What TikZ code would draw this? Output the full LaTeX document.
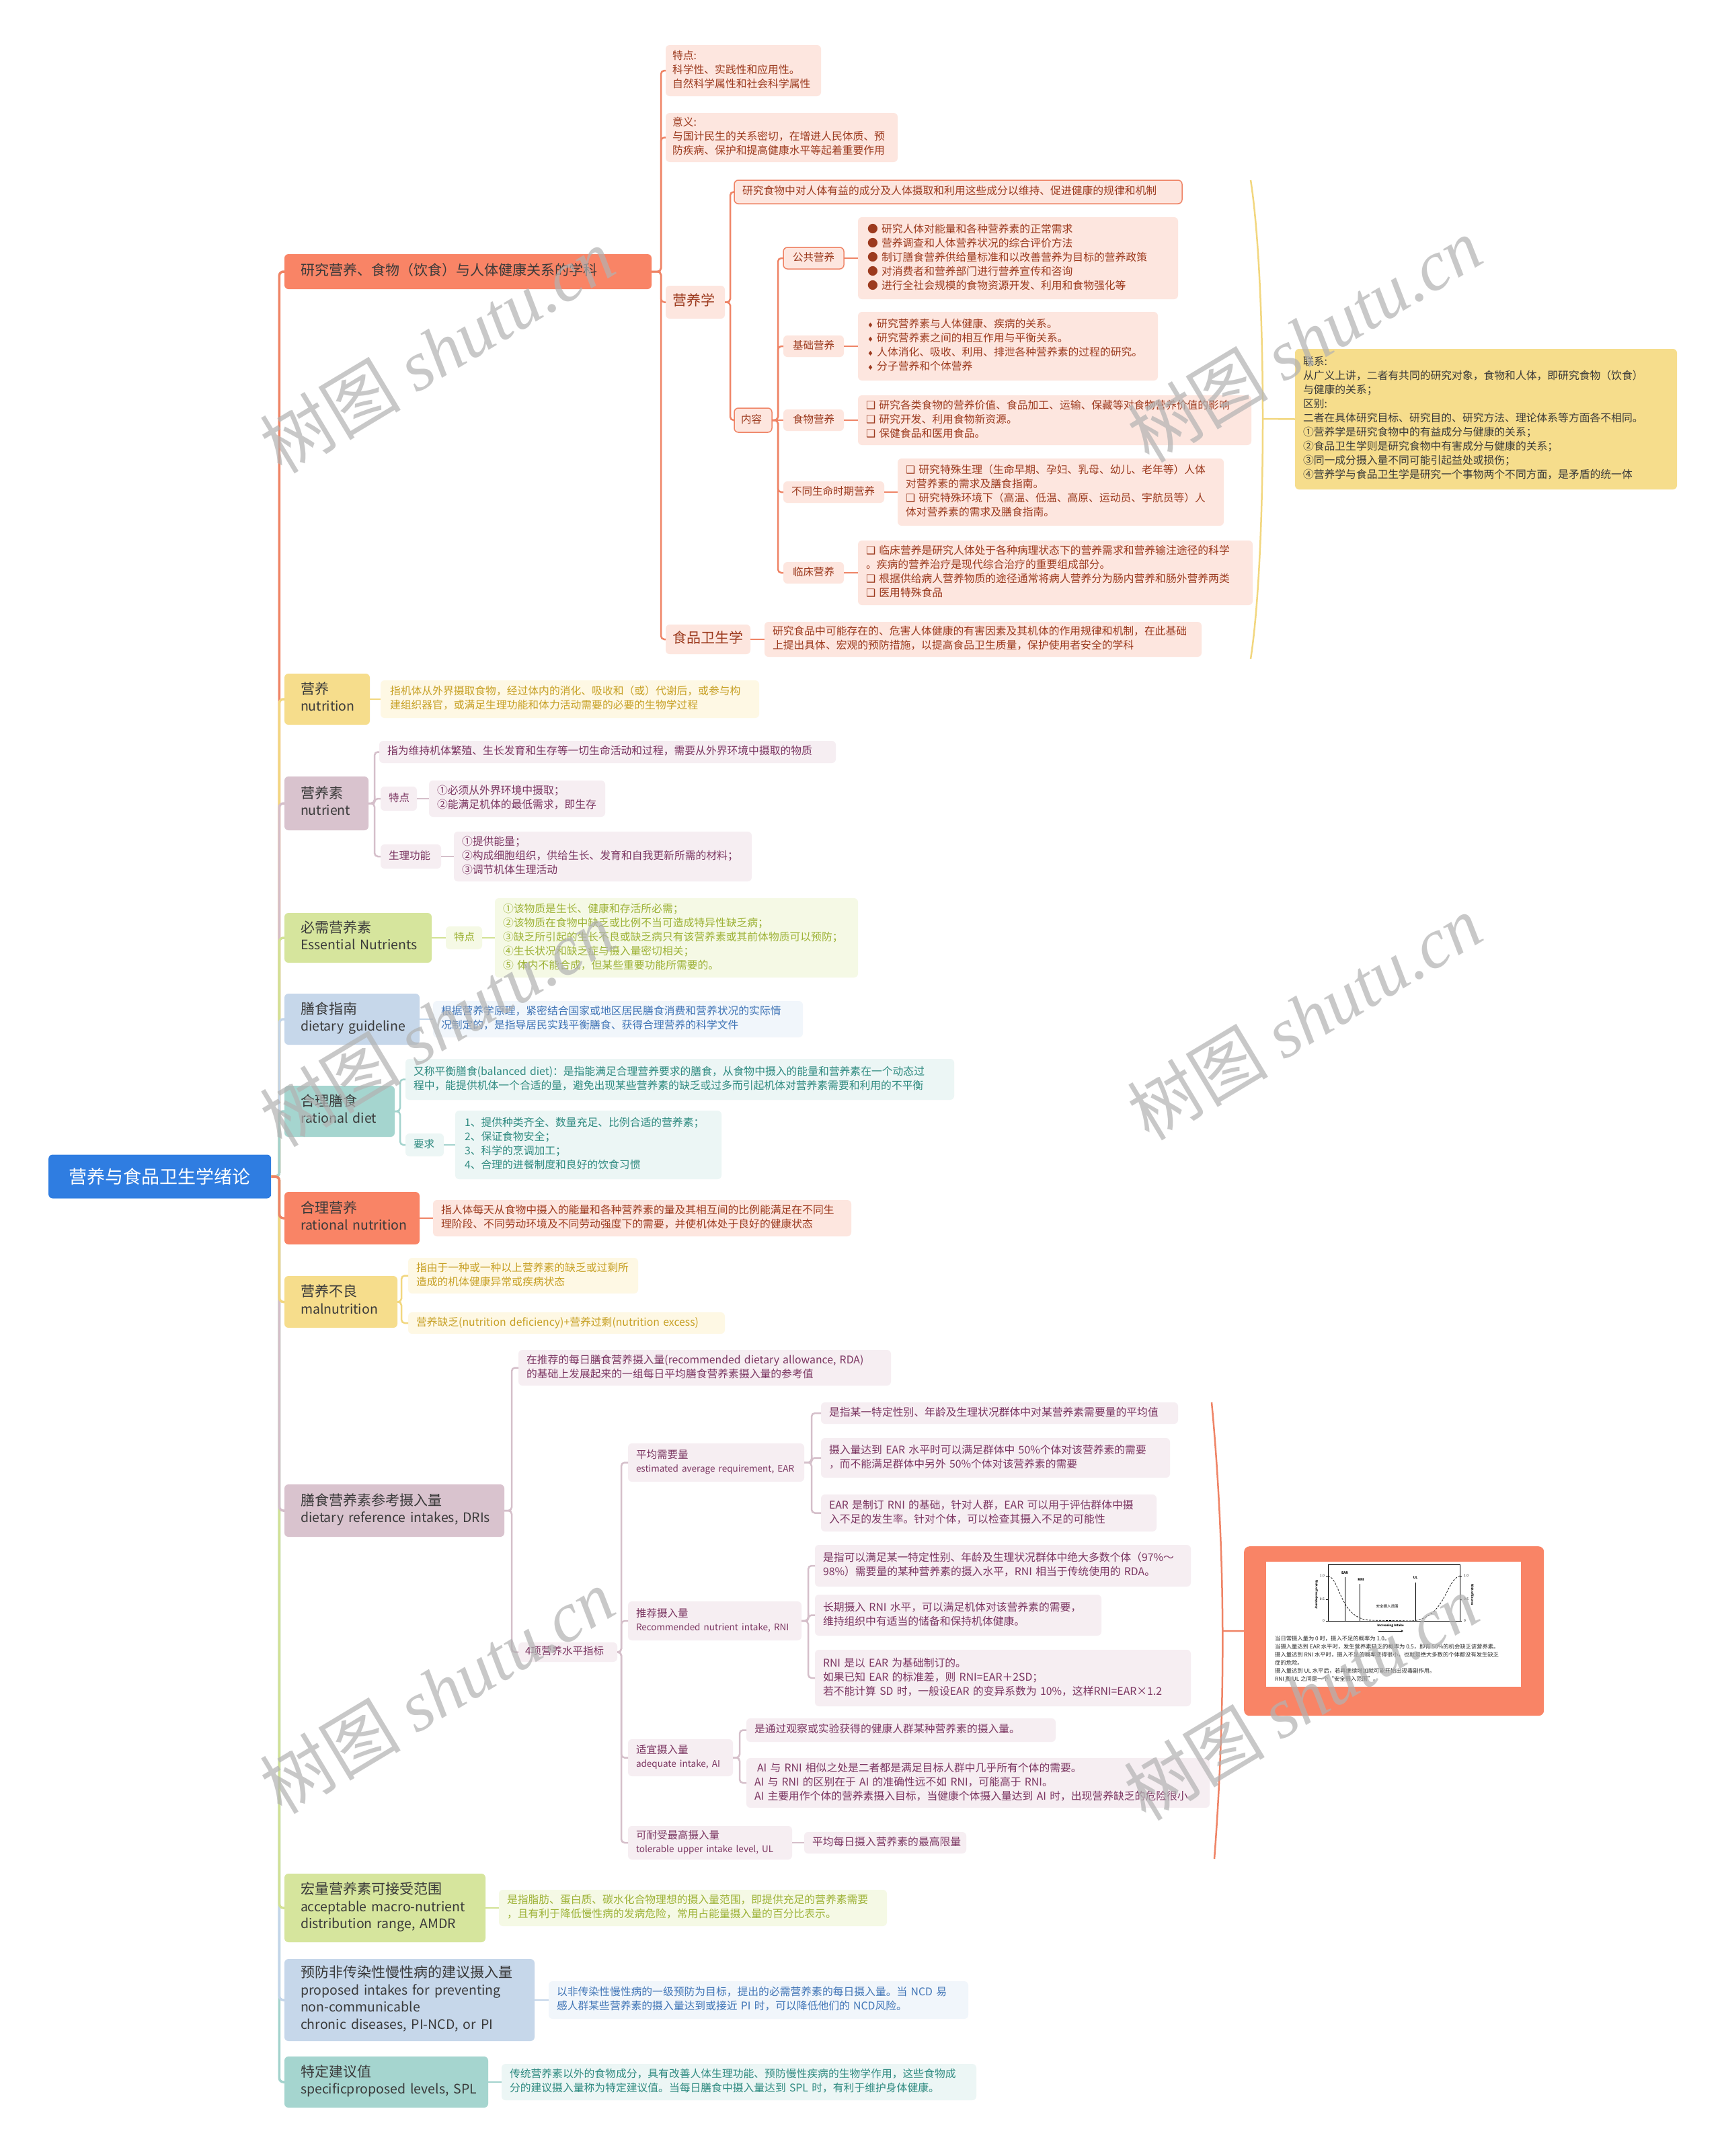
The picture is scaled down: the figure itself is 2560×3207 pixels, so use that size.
\documentclass[tikz,border=0pt]{standalone}
\usepackage{fontspec}
\setmainfont{Noto Sans CJK SC}
\newfontfamily\symf{DejaVu Sans}
\newfontfamily\wmf{Liberation Serif}
\usetikzlibrary{calc}
\definecolor{rootc}{HTML}{2F7DE1}
\definecolor{coral}{HTML}{F98466}
\definecolor{coralL}{HTML}{FDE6DF}
\definecolor{coralT}{HTML}{9C3A1E}
\definecolor{coralLine}{HTML}{EF8466}
\definecolor{yel}{HTML}{F6DD8C}
\definecolor{yelL}{HTML}{FEF8E4}
\definecolor{yelT}{HTML}{C7A024}
\definecolor{yelLine}{HTML}{F2D77F}
\definecolor{mau}{HTML}{D9C3CE}
\definecolor{mauL}{HTML}{F6EEF2}
\definecolor{mauT}{HTML}{7B3561}
\definecolor{mauLine}{HTML}{D5BFCA}
\definecolor{lim}{HTML}{D6E59D}
\definecolor{limL}{HTML}{F5F9E5}
\definecolor{limT}{HTML}{9DB236}
\definecolor{limLine}{HTML}{D2E294}
\definecolor{blu}{HTML}{C6D7EA}
\definecolor{bluL}{HTML}{F1F6FB}
\definecolor{bluT}{HTML}{3F74B6}
\definecolor{bluLine}{HTML}{C3D5E9}
\definecolor{tea}{HTML}{A5D5CF}
\definecolor{teaL}{HTML}{ECF6F5}
\definecolor{teaT}{HTML}{2E8A80}
\definecolor{teaLine}{HTML}{A3D3CD}
\definecolor{darkT}{HTML}{3A3A3A}
\newcommand\sqb{{\symf ❑}}
\newcommand\dmd{{\symf\fontsize{10}{10}\selectfont ♦}}
\newcommand\en{\fontsize{19.5}{25.5}\selectfont}
\newcommand\ens{\fontsize{13.5}{20}\selectfont}
\newcommand\bx[8]{%
 \pgfmathsetmacro\tw{#6-#4-2*#1}%
 \pgfmathsetmacro\hh{#7-#5}%
 \pgfmathsetmacro\cy{(#5+#7)/2}%
 \node[#3,inner xsep=#1pt,text width=\tw pt,minimum height=\hh pt] (#2) at (#4,\cy) {\begin{tabular}{@{}l@{}}#8\end{tabular}};%
}
\newcommand\lnk[4]{\draw[#1] (#2.east) -- ++(#3,0) |- (#4.west);}
\newcommand\lnks[3]{\draw[#1] (#2.east) -- (#3.west);}
\tikzset{
 base/.style={anchor=west, align=left, rounded corners=6pt, inner ysep=0pt, outer sep=0pt},
 mainn/.style={base, font=\fontsize{21}{25.5}\selectfont, text=darkT},
 subn/.style={base, font=\fontsize{15.5}{20}\selectfont},
 leafn/.style={base, font=\fontsize{15.8}{21}\selectfont},
 lnbase/.style={line width=2.5pt, rounded corners=5pt},
 lnCoral/.style={lnbase, draw=coralLine},
 lnYel/.style={lnbase, draw=yelLine},
 lnMau/.style={lnbase, draw=mauLine},
 lnLim/.style={lnbase, draw=limLine},
 lnBlu/.style={lnbase, draw=bluLine},
 lnTea/.style={lnbase, draw=teaLine},
 rootln/.style={line width=3.5pt, rounded corners=6pt},
 wmark/.style={rotate=31, text=black!30, opacity=0.7, font=\fontsize{105}{110}\selectfont},
 gtxt/.style={inner sep=0pt, font=\fontsize{5}{6}\selectfont},
 itxt/.style={anchor=west, inner sep=0pt, font=\fontsize{8.3}{10}\selectfont, text=black!85},
}
\begin{document}
\begin{tikzpicture}[x=1pt,y=-1pt]
\fill[white] (0,0) rectangle (2560,3207);
\useasboundingbox (0,0) rectangle (2560,3207);

% ---------- root
\node[fill=rootc, text=white, rounded corners=6pt, font=\fontsize{27}{30}\selectfont, minimum width=331pt, minimum height=65pt, anchor=west, inner sep=0pt] (root) at (72,1750) {营养与食品卫生学绪论};

% ---------- branch A
\bx{24}{A}{mainn,fill=coral}{423}{378}{969}{430}{研究营养、食物（饮食）与人体健康关系的学科}
\bx{10}{A1}{leafn,fill=coralL,text=coralT}{990}{67}{1221}{143}{特点:\\科学性、实践性和应用性。\\自然科学属性和社会科学属性}
\bx{10}{A2}{leafn,fill=coralL,text=coralT}{990}{168}{1335}{241}{意义:\\与国计民生的关系密切，在增进人民体质、预\\防疾病、保护和提高健康水平等起着重要作用}
\bx{10}{A3}{mainn,fill=coralL,text=coralT}{990}{425}{1078}{474}{营养学}
\bx{10}{A4}{mainn,fill=coralL,text=coralT}{990}{929}{1116}{973}{食品卫生学}
\bx{12}{A31}{leafn,fill=coralL,text=coralT,draw=coralLine,line width=1.5pt}{1092}{268}{1758}{303}{研究食物中对人体有益的成分及人体摄取和利用这些成分以维持、促进健康的规律和机制}
\bx{10}{A32}{subn,fill=coralL,text=coralT,draw=coralLine,line width=1.5pt}{1092}{607}{1148}{643}{内容}
\bx{14}{P1}{subn,fill=coralL,text=coralT,draw=coralLine,line width=1.5pt}{1165}{368}{1255}{400}{公共营养}
\bx{14}{P1l}{leafn,fill=coralL,text=coralT}{1276}{323}{1752}{445}{● 研究人体对能量和各种营养素的正常需求\\● 营养调查和人体营养状况的综合评价方法\\● 制订膳食营养供给量标准和以改善营养为目标的营养政策\\● 对消费者和营养部门进行营养宣传和咨询\\● 进行全社会规模的食物资源开发、利用和食物强化等}
\bx{14}{P2}{subn,fill=coralL,text=coralT}{1165}{499}{1255}{531}{基础营养}
\bx{14}{P2l}{leafn,fill=coralL,text=coralT}{1276}{464}{1722}{566}{\dmd\ 研究营养素与人体健康、疾病的关系。\\\dmd\ 研究营养素之间的相互作用与平衡关系。\\\dmd\ 人体消化、吸收、利用、排泄各种营养素的过程的研究。\\\dmd\ 分子营养和个体营养}
\bx{14}{P3}{subn,fill=coralL,text=coralT}{1165}{609}{1255}{641}{食物营养}
\bx{12}{P3l}{leafn,fill=coralL,text=coralT}{1276}{588}{1861}{662}{\sqb\ 研究各类食物的营养价值、食品加工、运输、保藏等对食物营养价值的影响\\\sqb\ 研究开发、利用食物新资源。\\\sqb\ 保健食品和医用食品。}
\bx{12}{P4}{subn,fill=coralL,text=coralT}{1165}{716}{1315}{748}{不同生命时期营养}
\bx{12}{P4l}{leafn,fill=coralL,text=coralT}{1335}{682}{1820}{782}{\sqb\ 研究特殊生理（生命早期、孕妇、乳母、幼儿、老年等）人体\\对营养素的需求及膳食指南。\\\sqb\ 研究特殊环境下（高温、低温、高原、运动员、宇航员等）人\\体对营养素的需求及膳食指南。}
\bx{14}{P5}{subn,fill=coralL,text=coralT}{1165}{836}{1255}{868}{临床营养}
\bx{12}{P5l}{leafn,fill=coralL,text=coralT}{1276}{804}{1863}{900}{\sqb\ 临床营养是研究人体处于各种病理状态下的营养需求和营养输注途径的科学\\。疾病的营养治疗是现代综合治疗的重要组成部分。\\\sqb\ 根据供给病人营养物质的途径通常将病人营养分为肠内营养和肠外营养两类\\\sqb\ 医用特殊食品}
\bx{12}{A4l}{leafn,fill=coralL,text=coralT}{1137}{925}{1787}{977}{研究食品中可能存在的、危害人体健康的有害因素及其机体的作用规律和机制，在此基础\\上提出具体、宏观的预防措施，以提高食品卫生质量，保护使用者安全的学科}

\bx{12}{Y}{leafn,fill=yel,text=darkT}{1926}{519}{2494}{728}{联系:\\从广义上讲，二者有共同的研究对象，食物和人体，即研究食物（饮食）\\与健康的关系；\\区别:\\二者在具体研究目标、研究目的、研究方法、理论体系等方面各不相同。\\①营养学是研究食物中的有益成分与健康的关系；\\②食品卫生学则是研究食物中有害成分与健康的关系；\\③同一成分摄入量不同可能引起益处或损伤；\\④营养学与食品卫生学是研究一个事物两个不同方面，是矛盾的统一体}

% ---------- B nutrition
\bx{24}{B}{mainn,fill=yel}{423}{1002}{550}{1078}{营养\\{\en nutrition}}
\bx{14}{Bl}{leafn,fill=yelL,text=yelT}{566}{1012}{1129}{1068}{指机体从外界摄取食物，经过体内的消化、吸收和（或）代谢后，或参与构\\建组织器官，或满足生理功能和体力活动需要的必要的生物学过程}

% ---------- C nutrient
\bx{24}{C}{mainn,fill=mau}{423}{1155}{548}{1235}{营养素\\{\en nutrient}}
\bx{12}{C1}{leafn,fill=mauL,text=mauT}{564}{1102}{1243}{1135}{指为维持机体繁殖、生长发育和生存等一切生命活动和过程，需要从外界环境中摄取的物质}
\bx{12}{C2}{subn,fill=mauL,text=mauT}{566}{1170}{620}{1206}{特点}
\bx{12}{C2l}{leafn,fill=mauL,text=mauT}{638}{1161}{900}{1215}{①必须从外界环境中摄取；\\②能满足机体的最低需求，即生存}
\bx{12}{C3}{subn,fill=mauL,text=mauT}{566}{1256}{656}{1292}{生理功能}
\bx{12}{C3l}{leafn,fill=mauL,text=mauT}{675}{1237}{1118}{1311}{①提供能量；\\②构成细胞组织，供给生长、发育和自我更新所需的材料；\\③调节机体生理活动}

% ---------- D essential
\bx{24}{D}{mainn,fill=lim}{423}{1358}{642}{1432}{必需营养素\\{\en Essential Nutrients}}
\bx{12}{D1}{subn,fill=limL,text=limT}{663}{1378}{717}{1412}{特点}
\bx{12}{D1l}{leafn,fill=limL,text=limT}{736}{1336}{1276}{1454}{①该物质是生长、健康和存活所必需；\\②该物质在食物中缺乏或比例不当可造成特异性缺乏病；\\③缺乏所引起的生长不良或缺乏病只有该营养素或其前体物质可以预防；\\④生长状况和缺乏症与摄入量密切相关；\\⑤ 体内不能合成，但某些重要功能所需要的。}

% ---------- E guideline
\bx{24}{E}{mainn,fill=blu}{423}{1478}{624}{1554}{膳食指南\\{\en dietary guideline}}
\bx{12}{El}{leafn,fill=bluL,text=bluT}{644}{1489}{1194}{1543}{根据营养学原理，紧密结合国家或地区居民膳食消费和营养状况的实际情\\况制定的，是指导居民实践平衡膳食、获得合理营养的科学文件}

% ---------- F rational diet
\bx{24}{F}{mainn,fill=tea}{423}{1615}{587}{1691}{合理膳食\\{\en rational diet}}
\bx{12}{F1}{leafn,fill=teaL,text=teaT}{603}{1575}{1419}{1636}{又称平衡膳食(balanced diet)：是指能满足合理营养要求的膳食，从食物中摄入的能量和营养素在一个动态过\\程中，能提供机体一个合适的量，避免出现某些营养素的缺乏或过多而引起机体对营养素需要和利用的不平衡}
\bx{12}{F2}{subn,fill=teaL,text=teaT}{603}{1686}{660}{1720}{要求}
\bx{14}{F2l}{leafn,fill=teaL,text=teaT}{677}{1652}{1073}{1754}{1、提供种类齐全、数量充足、比例合适的营养素；\\2、保证食物安全；\\3、科学的烹调加工；\\4、合理的进餐制度和良好的饮食习惯}

% ---------- G rational nutrition
\bx{24}{G}{mainn,fill=coral}{423}{1773}{624}{1851}{合理营养\\{\en rational nutrition}}
\bx{12}{Gl}{leafn,fill=coralL,text=coralT}{644}{1785}{1266}{1839}{指人体每天从食物中摄入的能量和各种营养素的量及其相互间的比例能满足在不同生\\理阶段、不同劳动环境及不同劳动强度下的需要，并使机体处于良好的健康状态}

% ---------- H malnutrition
\bx{24}{H}{mainn,fill=yel}{423}{1898}{591}{1975}{营养不良\\{\en malnutrition}}
\bx{12}{H1}{leafn,fill=yelL,text=yelT}{607}{1871}{949}{1924}{指由于一种或一种以上营养素的缺乏或过剩所\\造成的机体健康异常或疾病状态}
\bx{12}{H2}{leafn,fill=yelL,text=yelT}{607}{1952}{1078}{1984}{营养缺乏(nutrition deficiency)+营养过剩(nutrition excess)}

% ---------- I DRIs
\bx{24}{I}{mainn,fill=mau}{423}{2208}{750}{2286}{膳食营养素参考摄入量\\{\en dietary reference intakes, DRIs}}
\bx{12}{I1}{leafn,fill=mauL,text=mauT}{771}{2008}{1325}{2061}{在推荐的每日膳食营养摄入量(recommended dietary allowance, RDA)\\的基础上发展起来的一组每日平均膳食营养素摄入量的参考值}
\bx{10}{I2}{subn,fill=mauL,text=mauT}{771}{2443}{918}{2472}{4项营养水平指标}
\bx{12}{EAR}{subn,fill=mauL,text=mauT}{934}{2147}{1196}{2204}{平均需要量\\{\ens estimated average requirement, EAR}}
\bx{12}{e1}{leafn,fill=mauL,text=mauT}{1221}{2086}{1752}{2118}{是指某一特定性别、年龄及生理状况群体中对某营养素需要量的平均值}
\bx{12}{e2}{leafn,fill=mauL,text=mauT}{1221}{2139}{1740}{2198}{摄入量达到 EAR 水平时可以满足群体中 50\%个体对该营养素的需要\\，而不能满足群体中另外 50\%个体对该营养素的需要}
\bx{12}{e3}{leafn,fill=mauL,text=mauT}{1221}{2223}{1720}{2278}{EAR 是制订 RNI 的基础，针对人群，EAR 可以用于评估群体中摄\\入不足的发生率。针对个体，可以检查其摄入不足的可能性}
\bx{12}{RNI}{subn,fill=mauL,text=mauT}{934}{2382}{1192}{2440}{推荐摄入量\\{\ens Recommended nutrient intake, RNI}}
\bx{12}{r1}{leafn,fill=mauL,text=mauT}{1212}{2298}{1771}{2360}{是指可以满足某一特定性别、年龄及生理状况群体中绝大多数个体（97\%～\\98\%）需要量的某种营养素的摄入水平，RNI 相当于传统使用的 RDA。}
\bx{12}{r2}{leafn,fill=mauL,text=mauT}{1212}{2372}{1638}{2433}{长期摄入 RNI 水平，可以满足机体对该营养素的需要，\\维持组织中有适当的储备和保持机体健康。}
\bx{12}{r3}{leafn,fill=mauL,text=mauT}{1212}{2454}{1771}{2538}{RNI 是以 EAR 为基础制订的。\\如果已知 EAR 的标准差，则 RNI=EAR＋2SD；\\若不能计算 SD 时，一般设EAR 的变异系数为 10\%，这样RNI=EAR×1.2}
\bx{12}{AI}{subn,fill=mauL,text=mauT}{934}{2587}{1090}{2642}{适宜摄入量\\{\ens adequate intake, AI}}
\bx{12}{a1}{leafn,fill=mauL,text=mauT}{1110}{2556}{1570}{2591}{是通过观察或实验获得的健康人群某种营养素的摄入量。}
\bx{12}{a2}{leafn,fill=mauL,text=mauT}{1110}{2615}{1799}{2689}{\hspace{4pt}AI 与 RNI 相似之处是二者都是满足目标人群中几乎所有个体的需要。\\AI 与 RNI 的区别在于 AI 的准确性远不如 RNI，可能高于 RNI。\\AI 主要用作个体的营养素摄入目标，当健康个体摄入量达到 AI 时，出现营养缺乏的危险很小}
\bx{12}{UL}{subn,fill=mauL,text=mauT}{934}{2716}{1178}{2766}{可耐受最高摄入量\\{\ens tolerable upper intake level, UL}}
\bx{12}{ULl}{leafn,fill=mauL,text=mauT}{1196}{2725}{1437}{2757}{平均每日摄入营养素的最高限量}

% ---------- J K L
\bx{24}{J}{mainn,fill=lim}{423}{2787}{722}{2889}{宏量营养素可接受范围\\{\en acceptable macro-nutrient}\\{\en distribution range, AMDR}}
\bx{12}{Jl}{leafn,fill=limL,text=limT}{742}{2811}{1319}{2865}{是指脂肪、蛋白质、碳水化合物理想的摄入量范围，即提供充足的营养素需要\\，且有利于降低慢性病的发病危险，常用占能量摄入量的百分比表示。}
\bx{24}{K}{mainn,fill=blu}{423}{2914}{795}{3036}{预防非传染性慢性病的建议摄入量\\{\en proposed intakes for preventing}\\{\en non-communicable}\\{\en chronic diseases, PI-NCD, or PI}}
\bx{12}{Kl}{leafn,fill=bluL,text=bluT}{816}{2947}{1440}{3003}{以非传染性慢性病的一级预防为目标，提出的必需营养素的每日摄入量。当 NCD 易\\感人群某些营养素的摄入量达到或接近 PI 时，可以降低他们的 NCD风险。}
\bx{24}{L}{mainn,fill=tea}{423}{3059}{726}{3135}{特定建议值\\{\en specificproposed levels, SPL}}
\bx{12}{Ll}{leafn,fill=teaL,text=teaT}{746}{3070}{1452}{3124}{传统营养素以外的食物成分，具有改善人体生理功能、预防慢性疾病的生物学作用，这些食物成\\分的建议摄入量称为特定建议值。当每日膳食中摄入量达到 SPL 时，有利于维护身体健康。}

% ---------- image box
\node[fill=coral, rounded corners=8pt, minimum width=446pt, minimum height=252pt, anchor=north west, inner sep=0pt] (img) at (1850,2300) {};
\fill[white] (1883,2323) rectangle (2262,2509);
\draw[line width=0.8pt] (1975,2327) rectangle (2171,2411);
\draw[line width=0.8pt] (2000,2346) -- (2000,2411);
\draw[line width=0.8pt] (2022,2356) -- (2022,2411);
\draw[line width=0.8pt] (2105,2354) -- (2105,2411);
\draw[densely dashed, line width=0.7pt] (1975,2344) .. controls (1993,2348) and (1992,2405) .. (2035,2410) -- (2100,2411);
\draw[densely dashed, line width=0.7pt] (2100,2411) .. controls (2150,2407) and (2150,2350) .. (2171,2344);
\foreach \yy in {2344,2379,2411} {\draw[line width=0.5pt] (1972,\yy) -- (1975,\yy); \draw[line width=0.5pt] (2171,\yy) -- (2174,\yy);}
\node[gtxt, font=\fontsize{5}{6}\selectfont\bfseries] (gEAR) at (2000,2340) {EAR};
\node[gtxt, font=\fontsize{5}{6}\selectfont\bfseries] (gRNI) at (2024,2350) {RNI};
\node[gtxt, font=\fontsize{5}{6}\selectfont\bfseries] (gUL) at (2105,2347) {UL};
\node[gtxt, anchor=east] (gl1) at (1970,2344) {1.0};
\node[gtxt, anchor=east] (gl2) at (1970,2379) {0.5};
\node[gtxt, anchor=east] (gl3) at (1970,2411) {0};
\node[gtxt, anchor=west] (gr1) at (2177,2344) {1.0};
\node[gtxt, anchor=west] (gr2) at (2177,2379) {0.5};
\node[gtxt, anchor=west] (gr3) at (2177,2411) {0};
\node[gtxt, rotate=-90, font=\fontsize{4.5}{5}\selectfont\bfseries] (gyl) at (1958,2372) {Risk of Inadequacy};
\node[gtxt, rotate=-90, font=\fontsize{4.5}{5}\selectfont\bfseries] (gyr) at (2190,2372) {Risk of Excess};
\node[gtxt, font=\fontsize{5.5}{6}\selectfont] (gsafe) at (2063,2389) {安全摄入范围};
\node[gtxt, font=\fontsize{4.5}{5}\selectfont\bfseries] (gx) at (2068,2418) {Increasing Intake};
\coordinate (ga1) at (2050,2426);
\coordinate (ga2) at (2087,2426);
\draw[-stealth, line width=0.6pt] (ga1) -- (ga2);
\node[itxt] (t1) at (1896,2437) {当日常摄入量为 0 时，摄入不足的概率为 1.0。};
\node[itxt] (t2) at (1896,2449) {当摄入量达到 EAR 水平时，发生营养素缺乏的概率为 0.5，即有 50\%的机会缺乏该营养素。};
\node[itxt] (t3) at (1896,2461) {摄入量达到 RNI 水平时，摄入不足的概率变得很小，也就是绝大多数的个体都没有发生缺乏};
\node[itxt] (t4) at (1896,2473) {症的危险。};
\node[itxt] (t5) at (1896,2485) {摄入量达到 UL 水平后，若再继续增加就可能开始出现毒副作用。};
\node[itxt] (t6) at (1896,2497) {RNI 和 UL 之间是一个“安全摄入范围”。};

% ---------- root connectors
\draw[rootln, draw=coralLine] (root.east) -- ++(12,0) |- (A.west);
\draw[rootln, draw=yelLine] (root.east) -- ++(12,0) |- (B.west);
\draw[rootln, draw=mauLine] (root.east) -- ++(12,0) |- (C.west);
\draw[rootln, draw=limLine] (root.east) -- ++(12,0) |- (D.west);
\draw[rootln, draw=bluLine] (root.east) -- ++(12,0) |- (E.west);
\draw[rootln, draw=teaLine] (root.east) -- ++(12,0) |- (F.west);
\draw[rootln, draw=teaLine] (root.east) -- ++(12,0) |- (L.west);
\draw[rootln, draw=bluLine] (root.east) -- ++(12,0) |- (K.west);
\draw[rootln, draw=limLine] (root.east) -- ++(12,0) |- (J.west);
\draw[rootln, draw=mauLine] (root.east) -- ++(12,0) |- (I.west);
\draw[rootln, draw=yelLine] (root.east) -- ++(12,0) |- (H.west);
\draw[rootln, draw=coralLine] (root.east) -- ++(12,0) |- (G.west);

% ---------- branch connectors
\lnk{lnCoral}{A}{14}{A1}
\lnk{lnCoral}{A}{14}{A2}
\lnk{lnCoral}{A}{14}{A3}
\lnk{lnCoral}{A}{14}{A4}
\lnk{lnCoral}{A3}{8}{A31}
\lnk{lnCoral}{A3}{8}{A32}
\lnk{lnCoral}{A32}{9}{P1}
\lnk{lnCoral}{A32}{9}{P2}
\lnks{lnCoral}{A32}{P3}
\lnk{lnCoral}{A32}{9}{P4}
\lnk{lnCoral}{A32}{9}{P5}
\lnks{lnCoral}{P1}{P1l}
\lnks{lnCoral}{P2}{P2l}
\lnks{lnCoral}{P3}{P3l}
\lnks{lnCoral}{P4}{P4l}
\lnks{lnCoral}{P5}{P5l}
\lnks{lnCoral}{A4}{A4l}
\lnks{lnYel}{B}{Bl}
\lnk{lnMau}{C}{9}{C1}
\lnk{lnMau}{C}{9}{C2}
\lnk{lnMau}{C}{9}{C3}
\lnks{lnMau}{C2}{C2l}
\lnks{lnMau}{C3}{C3l}
\lnks{lnLim}{D}{D1}
\lnks{lnLim}{D1}{D1l}
\lnks{lnBlu}{E}{El}
\lnk{lnTea}{F}{8}{F1}
\lnk{lnTea}{F}{8}{F2}
\lnks{lnTea}{F2}{F2l}
\lnks{lnCoral}{G}{Gl}
\lnk{lnYel}{H}{6}{H1}
\lnk{lnYel}{H}{6}{H2}
\lnk{lnMau}{I}{11}{I1}
\lnk{lnMau}{I}{11}{I2}
\lnk{lnMau}{I2}{6}{EAR}
\lnk{lnMau}{I2}{6}{RNI}
\lnk{lnMau}{I2}{6}{AI}
\lnk{lnMau}{I2}{6}{UL}
\lnk{lnMau}{EAR}{11}{e1}
\lnk{lnMau}{EAR}{11}{e2}
\lnk{lnMau}{EAR}{11}{e3}
\lnk{lnMau}{RNI}{10}{r1}
\lnk{lnMau}{RNI}{10}{r2}
\lnk{lnMau}{RNI}{10}{r3}
\lnk{lnMau}{AI}{10}{a1}
\lnk{lnMau}{AI}{10}{a2}
\lnks{lnMau}{UL}{ULl}
\lnks{lnLim}{J}{Jl}
\lnks{lnBlu}{K}{Kl}
\lnks{lnTea}{L}{Ll}

% ---------- summary brackets
\coordinate (yb1) at (1860,268);
\coordinate (yb2) at (1860,980);
\coordinate (ybm) at (1878,623);
\draw[lnYel] (yb1) .. controls (1884,420) and (1884,826) .. (yb2);
\draw[lnYel] (ybm) -- (Y.west);
\coordinate (ob1) at (1802,2086);
\coordinate (ob2) at (1806,2765);
\coordinate (obm) at (1818,2426);
\draw[lnCoral] (ob1) .. controls (1823,2310) and (1823,2540) .. (ob2);
\draw[lnCoral] (obm) -- (img.west);

% ---------- watermarks
\node[wmark] (wm1) at (650,521) {树图 {\wmf\itshape shutu.cn}};
\node[wmark] (wm2) at (1940,505) {树图 {\wmf\itshape shutu.cn}};
\node[wmark] (wm3) at (650,1523) {树图 {\wmf\itshape shutu.cn}};
\node[wmark] (wm4) at (1940,1513) {树图 {\wmf\itshape shutu.cn}};
\node[wmark] (wm5) at (650,2515) {树图 {\wmf\itshape shutu.cn}};
\node[wmark] (wm6) at (1935,2525) {树图 {\wmf\itshape shutu.cn}};
\end{tikzpicture}
\end{document}
